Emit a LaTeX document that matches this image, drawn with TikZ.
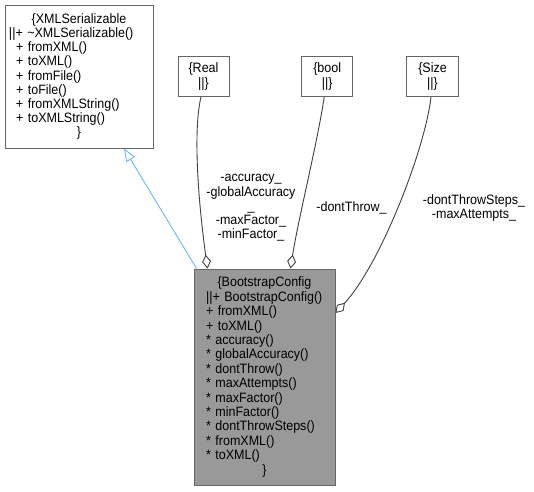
\documentclass[tikz,border=0pt]{standalone}
\usepackage{fontspec}
\setmainfont{Liberation Sans}[FakeStretch=0.92]
\usetikzlibrary{arrows.meta,calc}
\definecolor{edgegray}{HTML}{404040}
\definecolor{boxgray}{HTML}{666666}
\definecolor{inhblue}{HTML}{63B8FF}
\definecolor{bootfill}{HTML}{999999}
\tikzset{
  cls/.style={draw=boxgray, line width=0.9pt, rectangle, inner sep=0pt, fill=white,
    font=\fontsize{13.6}{14.2}\selectfont},
  lbl/.style={align=center, inner sep=0pt, font=\fontsize{13.6}{14.2}\selectfont},
  agg/.style={draw=edgegray, line width=0.9pt, {Diamond[open,length=14pt,width=9pt,line width=0.9pt]}-},
  inh/.style={draw=inhblue, line width=0.9pt, -{Triangle[open,length=13pt,width=10pt,line width=0.9pt]}},
}
\begin{document}
\begin{tikzpicture}[x=1pt,y=-1pt]
\useasboundingbox (0,0) rectangle (534,491);
% classes
\node[cls, minimum width=148pt, minimum height=143pt, text width=126pt] (xml) at (79,76.5)
  {\centering\{XMLSerializable\par\raggedright
   \hspace*{-7pt}||+ \textasciitilde XMLSerializable()\\
   + fromXML()\\
   + toXML()\\
   + fromFile()\\
   + toFile()\\
   + fromXMLString()\\
   + toXMLString()\par\centering\}\par};
\node[cls, minimum width=51pt, minimum height=40pt, align=center] (real) at (203.5,76.5)
  {\{Real\\||\}};
\node[cls, minimum width=51pt, minimum height=40pt, align=center] (bool) at (327.2,76.5)
  {\{bool\\||\}};
\node[cls, minimum width=52pt, minimum height=40pt, align=center] (size) at (432.5,76.5)
  {\{Size\\||\}};
\node[cls, fill=bootfill, minimum width=141pt, minimum height=216pt, text width=117pt,
  font=\fontsize{13.6}{14.4}\selectfont] (boot) at (264.5,377)
  {\centering\{BootstrapConfig\par\raggedright
   ||+ BootstrapConfig()\\
   + fromXML()\\
   + toXML()\\
   {*} accuracy()\\
   {*} globalAccuracy()\\
   {*} dontThrow()\\
   {*} maxAttempts()\\
   {*} maxFactor()\\
   {*} minFactor()\\
   {*} dontThrowSteps()\\
   {*} fromXML()\\
   {*} toXML()\par\centering\}\par};
% inheritance
\draw[inh] ([xshift=3pt]boot.north west) -- ([xshift=45pt]xml.south);
% aggregations
\draw[agg] ([xshift=14pt]boot.north west) .. controls (198,200) and (193,130) .. ([xshift=-2.5pt]real.south);
\draw[agg] ([xshift=97pt]boot.north west) .. controls (298,220) and (318,140) .. ([xshift=-3pt]bool.south);
\draw[agg] ([yshift=64pt]boot.east) .. controls (380,265) and (425,150) .. ([xshift=-1.5pt]size.south);
% labels
\node[lbl] (lreal) at (251,208) {-accuracy\_\\-globalAccuracy\\\_\\-maxFactor\_\\-minFactor\_};
\node[lbl] (lbool) at (351.5,208) {-dontThrow\_};
\node[lbl] (lsize) at (474,208) {-dontThrowSteps\_\\-maxAttempts\_};
\end{tikzpicture}
\end{document}
